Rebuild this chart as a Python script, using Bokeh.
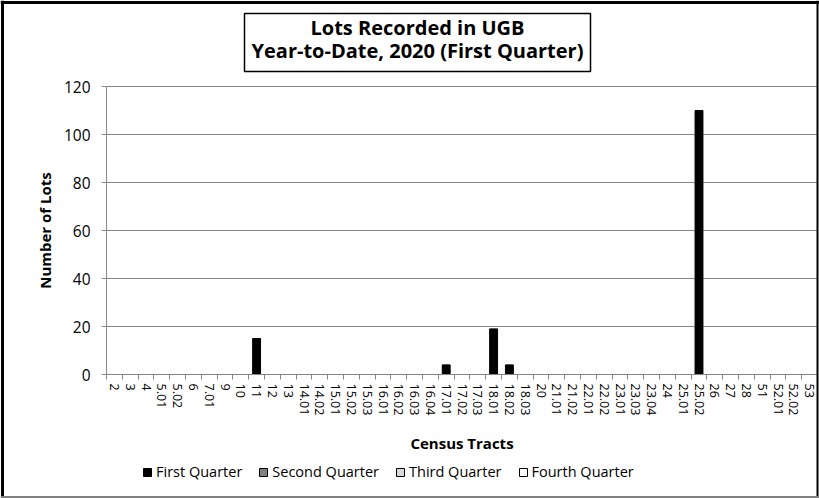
import math
from bokeh.plotting import figure
from bokeh.models import (FixedTicker, Legend, LegendItem, ColumnDataSource, Range1d,
                          Label, BoxAnnotation, Span)
from bokeh.embed import file_html
from bokeh.resources import INLINE

tracts = ["2", "3", "4", "5.01", "5.02", "6", "7.01", "9", "10", "11", "12", "13",
          "14.01", "14.02", "15.01", "15.02", "15.03", "16.01", "16.02", "16.03",
          "16.04", "17.01", "17.02", "17.03", "18.01", "18.02", "18.03", "20",
          "21.01", "21.02", "22.01", "22.02", "23.01", "23.03", "23.04", "24",
          "25.01", "25.02", "26", "27", "28", "51", "52.01", "52.02", "53"]

first_quarter = [0, 0, 0, 0, 0, 0, 0, 0, 0, 15, 0, 0,
                 0, 0, 0, 0, 0, 0, 0, 0,
                 0, 4, 0, 0, 19, 4, 0, 0,
                 0, 0, 0, 0, 0, 0, 0, 0,
                 0, 110, 0, 0, 0, 0, 0, 0, 0]
second_quarter = [0, 0, 0, 0, 0, 0, 0, 0, 0, 0, 0, 0,
                  0, 0, 0, 0, 0, 0, 0, 0,
                  0, 0, 0, 0, 0, 0, 0, 0,
                  0, 0, 0, 0, 0, 0, 0, 0,
                  0, 0, 0, 0, 0, 0, 0, 0, 0]
third_quarter = [0, 0, 0, 0, 0, 0, 0, 0, 0, 0, 0, 0,
                 0, 0, 0, 0, 0, 0, 0, 0,
                 0, 0, 0, 0, 0, 0, 0, 0,
                 0, 0, 0, 0, 0, 0, 0, 0,
                 0, 0, 0, 0, 0, 0, 0, 0, 0]
fourth_quarter = [0, 0, 0, 0, 0, 0, 0, 0, 0, 0, 0, 0,
                  0, 0, 0, 0, 0, 0, 0, 0,
                  0, 0, 0, 0, 0, 0, 0, 0,
                  0, 0, 0, 0, 0, 0, 0, 0,
                  0, 0, 0, 0, 0, 0, 0, 0, 0]

y_ticks = [0, 20, 40, 60, 80, 100, 120]
y_max = 120

FONT = "Open Sans"
GRID = "#868686"

# layout (pixels); the frame covers the whole canvas, axes are pinned at 0
W, H = 819, 498
PLOT_LEFT, PLOT_RIGHT = 106, 817
PLOT_TOP, PLOT_BOTTOM = 86, 374          # pixel rows of y=120 and y=0

n = len(tracts)
centers = [i + 0.5 for i in range(n)]

px_x = (PLOT_RIGHT - PLOT_LEFT) / n
x_start = -PLOT_LEFT / px_x
x_end = n + (W - PLOT_RIGHT) / px_x
px_y = (PLOT_BOTTOM - PLOT_TOP) / y_max
y_start = -(H - PLOT_BOTTOM) / px_y
y_end = y_max + PLOT_TOP / px_y

p = figure(width=W, height=H, x_range=Range1d(x_start, x_end),
           y_range=Range1d(y_start, y_end),
           output_backend="svg", toolbar_location=None,
           min_border=0)
p.title.visible = False
p.outline_line_color = None
p.background_fill_color = "white"
p.border_fill_color = "white"
p.xgrid.visible = False
p.ygrid.visible = False

# horizontal gridlines across the plot area only
p.segment(x0=[0] * len(y_ticks), x1=[n] * len(y_ticks), y0=y_ticks, y1=y_ticks,
          line_color=GRID, line_width=1)

series = [
    ("First Quarter", first_quarter, "black", "black"),
    ("Second Quarter", second_quarter, "#808080", "black"),
    ("Third Quarter", third_quarter, "#d9d9d9", "black"),
    ("Fourth Quarter", fourth_quarter, "white", "black"),
]
items = []
for name, vals, fill, line in series:
    tops = [v if v > 0 else math.nan for v in vals]
    src = ColumnDataSource(dict(x=centers, top=tops))
    r = p.vbar(x="x", top="top", width=0.5, source=src, fill_color=fill,
               line_color=line, line_width=1)
    items.append(LegendItem(label=name, renderers=[r]))

# x axis, pinned at y = 0
xa = p.xaxis[0]
xa.fixed_location = 0
xa.bounds = (0, n)
xa.ticker = FixedTicker(ticks=centers, minor_ticks=list(range(n + 1)))
xa.major_label_overrides = {c: t for c, t in zip(centers, tracts)}
xa.major_label_orientation = "vertical"
xa.major_tick_line_color = None
xa.major_tick_out = 5
xa.major_tick_in = 0
xa.minor_tick_line_color = GRID
xa.minor_tick_out = 5
xa.minor_tick_in = 0
xa.axis_line_color = GRID
xa.major_label_text_font = FONT
xa.major_label_text_font_size = "12.5px"
xa.major_label_text_color = "black"
xa.major_label_standoff = 4
xa.axis_label = "Census Tracts"
xa.axis_label_text_font = FONT
xa.axis_label_text_font_style = "bold"
xa.axis_label_text_font_size = "15px"
xa.axis_label_text_color = "black"
xa.axis_label_standoff = 15

# y axis, pinned at x = 0
ya = p.yaxis[0]
ya.fixed_location = 0
ya.bounds = (0, y_max)
ya.ticker = FixedTicker(ticks=y_ticks)
ya.major_tick_line_color = GRID
ya.major_tick_out = 5
ya.major_tick_in = 0
ya.minor_tick_line_color = None
ya.axis_line_color = GRID
ya.major_label_text_font = FONT
ya.major_label_text_font_size = "15.5px"
ya.major_label_text_color = "black"
ya.major_label_standoff = 11
ya.axis_label = "Number of Lots"
ya.axis_label_text_font = FONT
ya.axis_label_text_font_style = "bold"
ya.axis_label_text_font_size = "15px"
ya.axis_label_text_color = "black"
ya.axis_label_standoff = 6

# title box (screen units: x from left, y up from bottom)
p.add_layout(BoxAnnotation(left=244, right=590, top=H - 13, bottom=H - 71,
                           left_units="screen", right_units="screen",
                           top_units="screen", bottom_units="screen",
                           fill_color="white", fill_alpha=1,
                           line_color="black", line_alpha=1, line_width=1.5))
for txt, yy in [("Lots Recorded in UGB", 27), ("Year-to-Date, 2020 (First Quarter)", 50)]:
    p.add_layout(Label(x=417, y=H - yy, x_units="screen", y_units="screen",
                       text=txt, text_align="center", text_baseline="middle",
                       text_font=FONT, text_font_style="bold",
                       text_font_size="20px", text_color="black"))

# chart border
for loc, dim, col, lw in [(2, "height", "black", 3), (W - 2, "height", "black", 2),
                          (H - 2, "width", "black", 3), (1.5, "width", "#808080", 2)]:
    p.add_layout(Span(location=loc, location_units="screen", dimension=dim,
                      line_color=col, line_width=lw))

legend = Legend(items=items, orientation="horizontal",
                location=(142, H - 481),
                padding=0, margin=0, spacing=16, label_standoff=4,
                glyph_width=10, glyph_height=10,
                label_text_font=FONT, label_text_font_size="14.5px",
                label_text_color="black",
                border_line_color=None, background_fill_alpha=0)
p.add_layout(legend)

open("out.html", "w").write(file_html(p, INLINE))
